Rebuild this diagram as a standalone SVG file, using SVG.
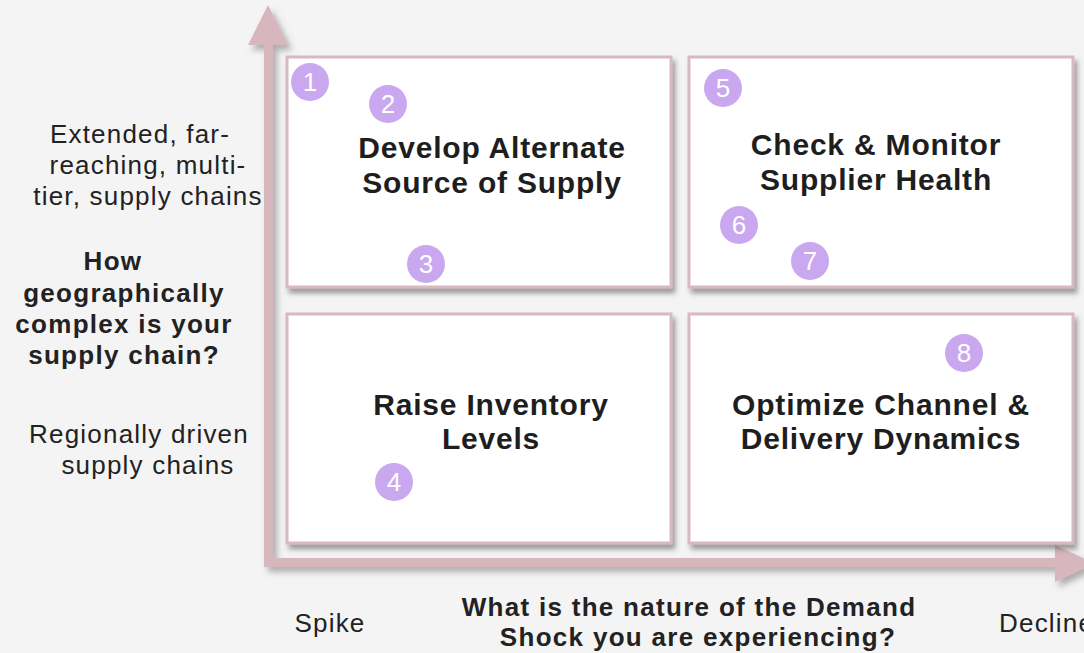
<svg xmlns="http://www.w3.org/2000/svg" width="1084" height="653" viewBox="0 0 1084 653">
  <defs>
    <filter id="shadow" x="-10%" y="-10%" width="130%" height="130%">
      <feDropShadow dx="3" dy="5" stdDeviation="2.5" flood-color="#555" flood-opacity="0.55"/>
    </filter>
    <filter id="axisShadow" x="-10%" y="-10%" width="130%" height="130%">
      <feDropShadow dx="4" dy="5" stdDeviation="3" flood-color="#666" flood-opacity="0.5"/>
    </filter>
  </defs>
  <style>
    .box { fill: #ffffff; stroke: #d8b9c0; stroke-width: 3; }
    .axis { fill: #d8b6bd; }
    .badge circle { fill: #c9a8ef; }
    .badge text { fill: #ffffff; font-family: "Liberation Sans", Arial, sans-serif; font-size: 26px; text-anchor: middle; }
    .title { fill: #1e1e1e; font-family: "Liberation Sans", Arial, sans-serif; font-size: 30px; font-weight: bold; text-anchor: middle; letter-spacing: 0.8px; }
    .label { fill: #222; font-family: "Liberation Sans", Arial, sans-serif; font-size: 26px; text-anchor: middle; letter-spacing: 1.2px; }
    .question { fill: #222; font-family: "Liberation Sans", Arial, sans-serif; font-size: 26px; font-weight: bold; text-anchor: middle; letter-spacing: 1.3px; }
  </style>

  <rect x="0" y="0" width="1084" height="653" fill="#f4f4f4"/>

  <!-- axes -->
  <g id="connectors" filter="url(#axisShadow)">
    <path class="axis" d="M264,45 L248,45 L268,5 L288,45 L273,45 L273,558 L1055,558 L1055,545 L1095,563.5 L1055,582 L1055,567 L264,567 Z"/>
  </g>

  <!-- quadrant: top-left -->
  <g id="q-alternate-source">
    <rect class="box" x="287" y="57" width="384" height="230" filter="url(#shadow)"/>
    <text class="title" x="492" y="158">Develop Alternate</text>
    <text class="title" x="492" y="193">Source of Supply</text>
  </g>

  <!-- quadrant: top-right -->
  <g id="q-supplier-health">
    <rect class="box" x="689" y="57" width="384" height="230" filter="url(#shadow)"/>
    <text class="title" x="876" y="155">Check &amp; Monitor</text>
    <text class="title" x="876" y="190">Supplier Health</text>
  </g>

  <!-- quadrant: bottom-left -->
  <g id="q-inventory">
    <rect class="box" x="287" y="314" width="384" height="229" filter="url(#shadow)"/>
    <text class="title" x="491" y="415">Raise Inventory</text>
    <text class="title" x="491" y="449">Levels</text>
  </g>

  <!-- quadrant: bottom-right -->
  <g id="q-channel">
    <rect class="box" x="689" y="314" width="384" height="229" filter="url(#shadow)"/>
    <text class="title" x="881" y="415">Optimize Channel &amp;</text>
    <text class="title" x="881" y="449">Delivery Dynamics</text>
  </g>

  <!-- numbered badges -->
  <g id="badge-1" class="badge"><circle cx="310" cy="82" r="19"/><text x="310" y="91">1</text></g>
  <g id="badge-2" class="badge"><circle cx="388" cy="104" r="19"/><text x="388" y="113">2</text></g>
  <g id="badge-3" class="badge"><circle cx="426" cy="264" r="19"/><text x="426" y="273">3</text></g>
  <g id="badge-4" class="badge"><circle cx="394" cy="482" r="19"/><text x="394" y="491">4</text></g>
  <g id="badge-5" class="badge"><circle cx="723" cy="88" r="19"/><text x="723" y="97">5</text></g>
  <g id="badge-6" class="badge"><circle cx="739" cy="225" r="19"/><text x="739" y="234">6</text></g>
  <g id="badge-7" class="badge"><circle cx="810" cy="261" r="19"/><text x="810" y="270">7</text></g>
  <g id="badge-8" class="badge"><circle cx="964" cy="353" r="19"/><text x="964" y="362">8</text></g>

  <!-- vertical axis labels -->
  <g id="y-labels">
    <text class="label" x="140" y="143">Extended, far-</text>
    <text class="label" x="148" y="174">reaching, multi-</text>
    <text class="label" x="148" y="205">tier, supply chains</text>
    <text class="question" x="113" y="270">How</text>
    <text class="question" x="124" y="302">geographically</text>
    <text class="question" x="124" y="333">complex is your</text>
    <text class="question" x="124" y="364">supply chain?</text>
    <text class="label" x="139" y="443">Regionally driven</text>
    <text class="label" x="148" y="474">supply chains</text>
  </g>

  <!-- horizontal axis labels -->
  <g id="x-labels">
    <text class="label" x="330" y="632">Spike</text>
    <text class="question" x="689" y="616">What is the nature of the Demand</text>
    <text class="question" x="698" y="646">Shock you are experiencing?</text>
    <text class="label" x="999" y="632" style="text-anchor:start">Decline</text>
  </g>
</svg>
